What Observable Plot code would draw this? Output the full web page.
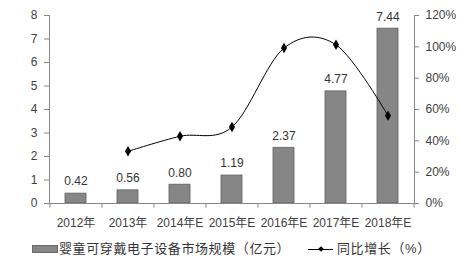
<!DOCTYPE html>
<html>
<head>
<meta charset="utf-8">
<script src="https://cdn.jsdelivr.net/npm/d3@7"></script>
<script src="https://cdn.jsdelivr.net/npm/@observablehq/plot@0.6"></script>
<style>
  html, body { margin: 0; padding: 0; background: #fff; }
  #wrap { position: relative; width: 461px; height: 258px; font-family: "Liberation Sans", "Noto Sans CJK SC", sans-serif; color: #333; }
  #legend { position: absolute; left: 0; top: 240px; width: 461px; height: 18px; font-size: 13px; }
  .sw { position: absolute; left: 32px; top: 5px; width: 26px; height: 8px; background: #868686; border: 1px solid #6a6a6a; box-sizing: border-box; }
  .t1 { position: absolute; left: 59px; top: 0; line-height: 18px; white-space: nowrap; letter-spacing: 0.6px; }
  .t2 { position: absolute; left: 337px; top: 0; line-height: 18px; white-space: nowrap; letter-spacing: 0.6px; }
  .ln { position: absolute; left: 308px; top: 9px; width: 25px; height: 1px; background: #000; }
  .dm { position: absolute; left: 319px; top: 7px; width: 4px; height: 4px; background: #000; transform: rotate(45deg); }
</style>
</head>
<body>
<div id="wrap">
  <div id="chart"></div>
  <div id="legend"></div>
</div>
<script>
const years = ["2012年", "2013年", "2014年E", "2015年E", "2016年E", "2017年E", "2018年E"];
const marketSize = [0.42, 0.56, 0.80, 1.19, 2.37, 4.77, 7.44];
const growthPct = [null, 33.3, 42.9, 48.8, 99.2, 101.3, 56.0];
const leftTicks = [0, 1, 2, 3, 4, 5, 6, 7, 8];
const rightTicks = [0, 20, 40, 60, 80, 100, 120];
const legendLabels = ["婴童可穿戴电子设备市场规模（亿元）", "同比增长（%）"];

const table = years.map((year, i) => ({year, market: marketSize[i], growth: growthPct[i]}));
const lineData = table.filter(d => d.growth != null);
const ratio = 120 / 8; // right axis % per left axis unit

const axisColor = "#868686";
const textColor = "#404040";

const chart = Plot.plot({
  width: 461,
  height: 235,
  marginLeft: 49,
  marginRight: 47,
  marginTop: 15,
  marginBottom: 32,
  style: {fontFamily: '"Liberation Sans", "Noto Sans CJK SC", sans-serif', fontSize: "12px", color: textColor, background: "white"},
  x: {domain: years, paddingInner: 0.6, paddingOuter: 0.3, label: null},
  y: {domain: [0, 8], label: null},
  marks: [
    Plot.barY(table, {x: "year", y: "market", fill: "#868686", stroke: "#5e5e5e", strokeWidth: 0.8}),
    Plot.text(table, {x: "year", y: "market", text: d => d.market.toFixed(2), dy: -12, fontSize: 12, fill: "#333"}),
    Plot.ruleY([0], {stroke: axisColor}),
    Plot.frame({anchor: "left", stroke: axisColor}),
    Plot.frame({anchor: "right", stroke: axisColor}),
    Plot.axisY({ticks: leftTicks, tickSize: 5, tickPadding: 7, stroke: axisColor, fill: textColor, label: null}),
    Plot.axisY({anchor: "right", ticks: rightTicks.map(p => p / ratio), tickFormat: v => Math.round(v * ratio) + "%", tickSize: 4, tickPadding: 7, stroke: axisColor, fill: textColor, label: null}),
    Plot.axisX({tickSize: 0, tickPadding: 15, fill: textColor, label: null}),
    Plot.ruleX(years, {x: d => d, dx: -26.07, y1: 0, y2: -0.2, stroke: axisColor}),
    Plot.ruleX(years.slice(-1), {x: d => d, dx: 26.07, y1: 0, y2: -0.2, stroke: axisColor}),
    Plot.line(lineData, {x: "year", y: d => d.growth / ratio, curve: "cardinal", stroke: "#000", strokeWidth: 1}),
    Plot.dot(lineData, {x: "year", y: d => d.growth / ratio, symbol: "diamond", r: 3.2, fill: "#000", stroke: "none"})
  ]
});
document.getElementById("chart").appendChild(chart);

const lg = document.getElementById("legend");
lg.innerHTML = `<div class="sw"></div><div class="t1">${legendLabels[0]}</div><div class="ln"></div><div class="dm"></div><div class="t2">${legendLabels[1]}</div>`;
</script>
</body>
</html>
